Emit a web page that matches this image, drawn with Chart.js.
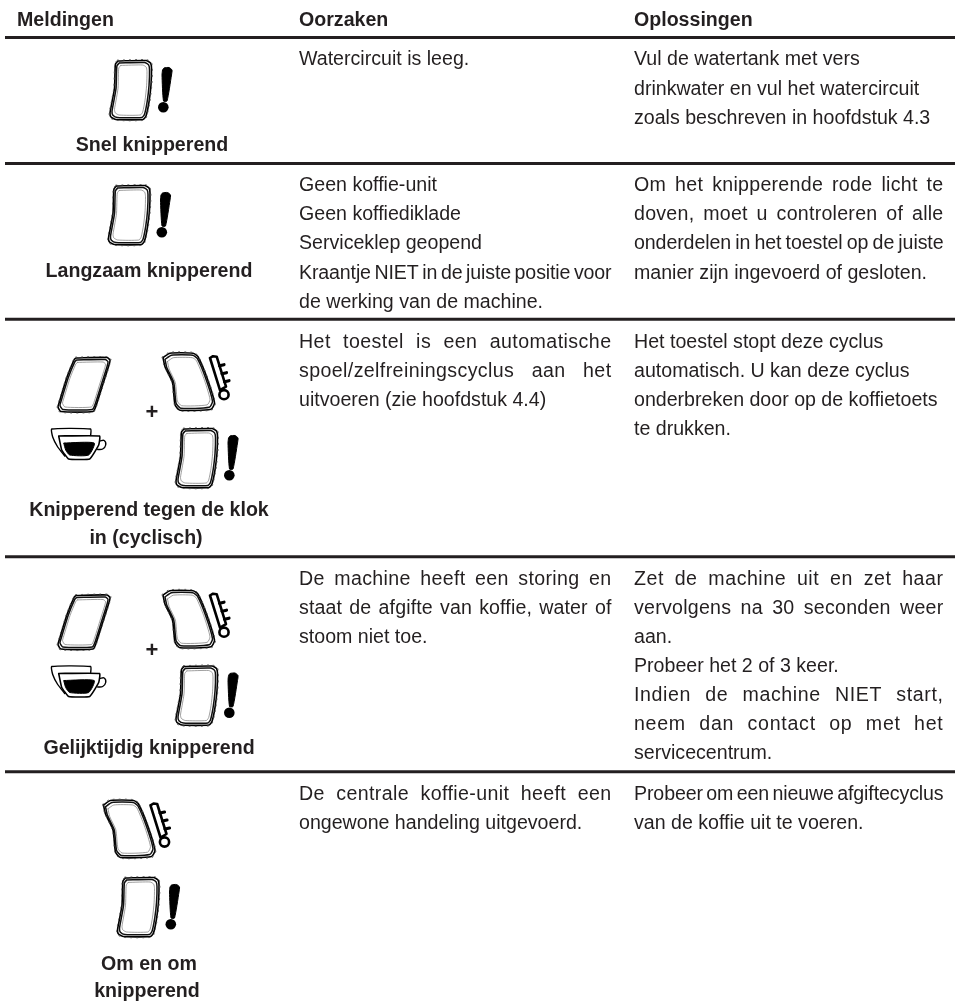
<!DOCTYPE html>
<html>
<head>
<meta charset="utf-8">
<title>Meldingen</title>
<script src="https://cdn.jsdelivr.net/npm/chart.js@4"></script>
<style>
  html, body { margin: 0; padding: 0; background: #fff; }
  canvas { display: block; }
</style>
</head>
<body>
<canvas id="myChart" width="955" height="1004"></canvas>
<script>
// table text, one array per column
const headers = ["Meldingen", "Oorzaken", "Oplossingen"];
const notices = [
  ["Snel knipperend"],
  ["Langzaam knipperend"],
  ["Knipperend tegen de klok", "in (cyclisch)"],
  ["Gelijktijdig knipperend"],
  ["Om en om", "knipperend"]
];
const causes = [
  ["Watercircuit is leeg."],
  ["Geen koffie-unit", "Geen koffiediklade", "Serviceklep geopend", "Kraantje NIET in de juiste positie voor", "de werking van de machine."],
  ["Het toestel is een automatische", "spoel/zelfreiningscyclus aan het", "uitvoeren (zie hoofdstuk 4.4)"],
  ["De machine heeft een storing en", "staat de afgifte van koffie, water of", "stoom niet toe."],
  ["De centrale koffie-unit heeft een", "ongewone handeling uitgevoerd."]
];
const solutions = [
  ["Vul de watertank met vers", "drinkwater en vul het watercircuit", "zoals beschreven in hoofdstuk 4.3"],
  ["Om het knipperende rode licht te", "doven, moet u controleren of alle", "onderdelen in het toestel op de juiste", "manier zijn ingevoerd of gesloten."],
  ["Het toestel stopt deze cyclus", "automatisch. U kan deze cyclus", "onderbreken door op de koffietoets", "te drukken."],
  ["Zet de machine uit en zet haar", "vervolgens na 30 seconden weer", "aan.", "Probeer het 2 of 3 keer.", "Indien de machine NIET start,", "neem dan contact op met het", "servicecentrum."],
  ["Probeer om een nieuwe afgiftecyclus", "van de koffie uit te voeren."]
];

// which lines run to the right edge of their column
const causesJustified = [[], [3], [0, 1], [0, 1], [0]];
const solutionsJustified = [[], [0, 1, 2], [], [0, 1, 4, 5], [0]];

// layout, in picture pixels
const ruleYs = [37.5, 163.5, 319.3, 556.7, 771.7];
const ruleXs = [5, 955];
const columnXs = [17, 299, 634];
const columnRights = [0, 611.5, 943.5];
const headerBaseline = 26;
const noticeCenters = [[152], [149], [149, 146], [149], [149, 147]];
const noticeBaselines = [[150.5], [277], [515.5, 544], [754], [970, 996.5]];
const causeBaselines = [[65], [190.7, 220, 249.3, 279.3, 308.3], [347.5, 376.7, 406], [585, 613.5, 643], [800, 829]];
const solutionBaselines = [[65, 95, 123.5], [190.7, 220, 249.3, 279.3], [347.5, 376.7, 406, 435], [585, 613.5, 643, 672, 701, 730, 758.5], [800, 829]];
const plusMarks = [[152, 419], [152, 656.5]];

// icon outlines, relative to the top left of each icon
const buttonStraight = [[8,1],[36,0.5],[40.5,3],[41.5,8],[41,25],[39,42],[36,56],[33,59.5],[6,59.5],[1,57],[0,53],[2,42],[4.5,28],[5,12],[5.5,4]];
const buttonLeft = [[18,1],[49,0.5],[52,3],[51,8],[45,27],[38,49],[35,54.5],[3,54.5],[0,50],[1,46],[9,20],[16,3]];
const buttonRight = [[0,5],[7,0.5],[30,0.5],[35,4],[44,25],[51.5,50],[48,56.5],[17,57.5],[12,52],[9.5,30],[2,14]];
const exclamStem = [[52.5,10],[54,8],[59,7.5],[62,10],[61.5,15],[57,41],[53.5,41],[52,15]];
const exclamDot = [53.3, 47.3];
const thermoTube = [[47,5.3],[50,3.5],[53.7,4],[63,34],[57,37.5]];
const thermoBulb = [61, 42];
const thermoTicks = [[[56.5,13],[61,12]], [[59,21],[63.5,20]], [[61.5,29],[66,28]]];
const cupBack = [[13,27],[6,18],[1,8],[0,0],[39,0],[39,6]];
const cupBody = [[7,7],[48,7],[47,16],[38,30],[17,30],[10,21]];
const cupCoffee = [[12,14],[42.5,14],[37,26],[18,26],[14,21]];
const cupHandle = [[48,12],[52.5,11.5],[54,16],[51,20],[46,20.5]];

// where each icon goes
const straightSpots = [[110,60], [108.5,185], [176,428], [176,665.5], [117.5,877]];
const leftSpots = [[58,357], [58,594.5]];
const rightSpots = [[163,352.7], [163,590.2], [103.5,800]];
const cupSpots = [[51.7,429], [51.7,666.5]];

const ink = "#231f20";
const datasets = [];

function place(points, spot, close) {
  const out = points.map(p => ({x: p[0] + spot[0], y: p[1] + spot[1]}));
  if (close) out.push(out[0]);
  return out;
}

// shrinks an outline towards its middle, for the inner lines of the buttons
function inset(points, dx, dy) {
  const xs = points.map(p => p[0]);
  const ys = points.map(p => p[1]);
  const minX = Math.min(...xs), maxX = Math.max(...xs);
  const minY = Math.min(...ys), maxY = Math.max(...ys);
  const cx = (minX + maxX) / 2, cy = (minY + maxY) / 2;
  const sx = ((maxX - minX) / 2 - dx) / ((maxX - minX) / 2);
  const sy = ((maxY - minY) / 2 - dy) / ((maxY - minY) / 2);
  return points.map(p => [cx + (p[0] - cx) * sx, cy + (p[1] - cy) * sy]);
}

function stroke(points, spot, width, close, color, tension, dash) {
  datasets.push({
    data: place(points, spot, close), showLine: true, pointRadius: 0,
    borderColor: color || ink, borderWidth: width, tension: tension || 0,
    borderDash: dash || [], borderJoinStyle: "round", borderCapStyle: "round", fill: false
  });
}

function solid(points, spot, color) {
  datasets.push({
    data: place(points, spot, true), showLine: true, pointRadius: 0,
    borderColor: color, backgroundColor: color, borderWidth: 1, tension: 0.2, fill: "shape"
  });
}

function dot(center, spot, radius, fillColor, width) {
  datasets.push({
    data: place([center], spot, false), showLine: false, pointRadius: radius,
    pointBackgroundColor: fillColor, pointBorderColor: "#000", pointBorderWidth: width
  });
}

function button(shape, spot) {
  stroke(inset(shape, -0.9, -0.9), spot, 1, true, "#555", 0.2, [1, 5]);
  stroke(shape, spot, 1.6, true, "#000", 0.2);
  stroke(inset(shape, 2, 2), spot, 1.5, true, "#111", 0.2);
  stroke(inset(shape, 4.5, 4.5), spot, 0.7, true, "#777", 0.2);
}

ruleYs.forEach(y => {
  datasets.push({
    data: ruleXs.map(x => ({x: x, y: y})), showLine: true, pointRadius: 0,
    borderColor: ink, borderWidth: 3
  });
});

straightSpots.forEach(spot => {
  button(buttonStraight, spot);
  solid(exclamStem, spot, "#000");
  dot(exclamDot, spot, 5.3, "#000", 0);
});
leftSpots.forEach(spot => button(buttonLeft, spot));
rightSpots.forEach(spot => {
  button(buttonRight, spot);
  thermoTicks.forEach(t => stroke(t, spot, 3.2, false, "#000"));
  stroke(thermoTube, spot, 2.6, true, "#000");
  dot(thermoBulb, spot, 4.6, "#fff", 2.6);
});
cupSpots.forEach(spot => {
  stroke(cupBack, spot, 1.4, false, "#000", 0.15);
  stroke(cupBody, spot, 1.6, true, "#000", 0.1);
  solid(cupCoffee, spot, "#000");
  stroke(cupHandle, spot, 1.4, false, "#000", 0.35);
});

const tableText = {
  id: "tableText",
  afterDatasetsDraw(chart) {
    const ctx = chart.ctx;
    const sx = chart.scales.x, sy = chart.scales.y;

    function put(text, x, y, font, align, right) {
      ctx.font = font;
      ctx.textAlign = align;
      ctx.letterSpacing = "0px";
      ctx.wordSpacing = "0px";
      if (right) {
        // justified line: share the difference over letters and word gaps
        const extra = right - x - ctx.measureText(text).width;
        const gaps = text.split(" ").length - 1;
        ctx.letterSpacing = (extra * 0.35 / text.length) + "px";
        ctx.wordSpacing = (gaps ? extra * 0.65 / gaps : 0) + "px";
      }
      ctx.fillText(text, sx.getPixelForValue(x), sy.getPixelForValue(y));
    }

    ctx.save();
    ctx.fillStyle = ink;
    ctx.textBaseline = "alphabetic";
    const bold = 'bold 19.6px "Liberation Sans"';
    const plain = '19.6px "Liberation Sans"';

    headers.forEach((h, i) => put(h, columnXs[i], headerBaseline, bold, "left"));
    notices.forEach((lines, r) => lines.forEach((t, l) => {
      put(t, noticeCenters[r][l], noticeBaselines[r][l], bold, "center");
    }));
    causes.forEach((lines, r) => lines.forEach((t, l) => {
      put(t, columnXs[1], causeBaselines[r][l], plain, "left", causesJustified[r].includes(l) ? columnRights[1] : 0);
    }));
    solutions.forEach((lines, r) => lines.forEach((t, l) => {
      put(t, columnXs[2], solutionBaselines[r][l], plain, "left", solutionsJustified[r].includes(l) ? columnRights[2] : 0);
    }));
    plusMarks.forEach(p => put("+", p[0], p[1], 'bold 22px "Liberation Sans"', "center"));
    ctx.restore();
  }
};

new Chart("myChart", {
  type: "scatter",
  data: {datasets: datasets},
  plugins: [tableText],
  options: {
    responsive: false,
    animation: false,
    events: [],
    layout: {padding: 0, autoPadding: false},
    plugins: {legend: {display: false}, tooltip: {enabled: false}, title: {display: false}},
    scales: {
      x: {type: "linear", min: 0, max: 955, display: false},
      y: {type: "linear", min: 0, max: 1004, reverse: true, display: false}
    }
  }
});
</script>
</body>
</html>
